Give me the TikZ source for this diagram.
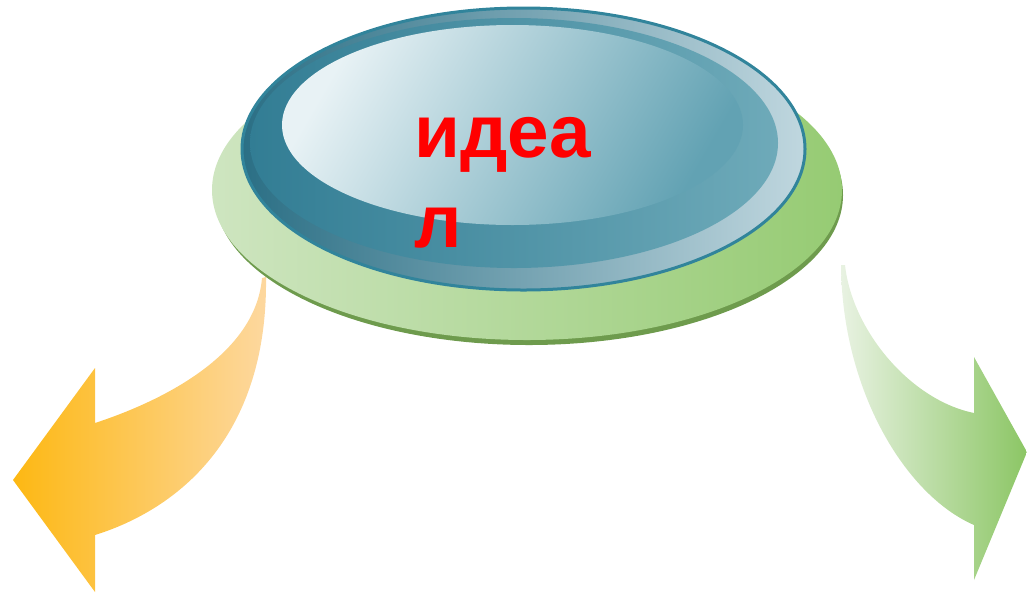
\documentclass[tikz,border=0pt]{standalone}
\usepackage{fontspec}
\setmainfont{Liberation Sans}
\tikzset{every picture/.style={line width=0.75pt}}
\tikzset{
  ideaword/.style={anchor=base west, inner sep=0pt, text=red, font=\fontsize{56}{60}\selectfont\bfseries}
}
\begin{document}
\begin{tikzpicture}[x=0.75pt,y=0.75pt,yscale=-1,xscale=1]
\useasboundingbox (0,0) rectangle (1027,594);

%Shape: Curved Arrow [id:orange] 
\path [left color={rgb, 255:red, 253; green, 184; blue, 19 }, right color={rgb, 255:red, 253; green, 216; blue, 160 }]  (262,278) .. controls (255,360) and (150,405) .. (95,423) -- (95,368) -- (13,480) -- (95,592) -- (95,535) .. controls (175,510) and (268,440) .. (266,277) -- cycle ;
%Shape: Curved Arrow [id:green] 
\path [left color={rgb, 255:red, 232; green, 242; blue, 226 }, right color={rgb, 255:red, 140; green, 198; blue, 101 }]  (845,265) .. controls (852,330) and (910,400) .. (974,413) -- (974,357) -- (1027,452) -- (974,580) -- (974,525) .. controls (905,495) and (842,390) .. (841,265) -- cycle ;

%Shape: Ellipse [id:greenrim] 
\fill [color={rgb, 255:red, 110; green, 155; blue, 77 }]  (529,195) ellipse (314 and 150) ;
%Shape: Ellipse [id:greenbase] 
\path [left color={rgb, 255:red, 206; green, 229; blue, 192 }, right color={rgb, 255:red, 150; green, 203; blue, 115 }]  (527,190) ellipse (315 and 150) ;

%Shape: Ellipse [id:blueouter] 
\draw [color={rgb, 255:red, 49; green, 132; blue, 155 }, line width=2.25] [left color={rgb, 255:red, 43; green, 111; blue, 133 }, right color={rgb, 255:red, 192; green, 215; blue, 223 }]  (523.5,149) ellipse (281.5 and 141) ;
%Shape: Ellipse [id:blueband] 
\path [left color={rgb, 255:red, 50; green, 125; blue, 148 }, right color={rgb, 255:red, 110; green, 170; blue, 185 }]  (514,143) ellipse (264 and 125) ;
%Shape: Ellipse [id:blueinner] 
\path [left color={rgb, 255:red, 232; green, 242; blue, 245 }, right color={rgb, 255:red, 98; green, 162; blue, 179 }, shading angle=60]  (512.5,125) ellipse (230.5 and 100) ;

% Text Node
\node (ideaTop) [ideaword] at (414,157) {идеа};
% Text Node
\node (ideaBot) [ideaword] at (414,247) {л};

\end{tikzpicture}
\end{document}
